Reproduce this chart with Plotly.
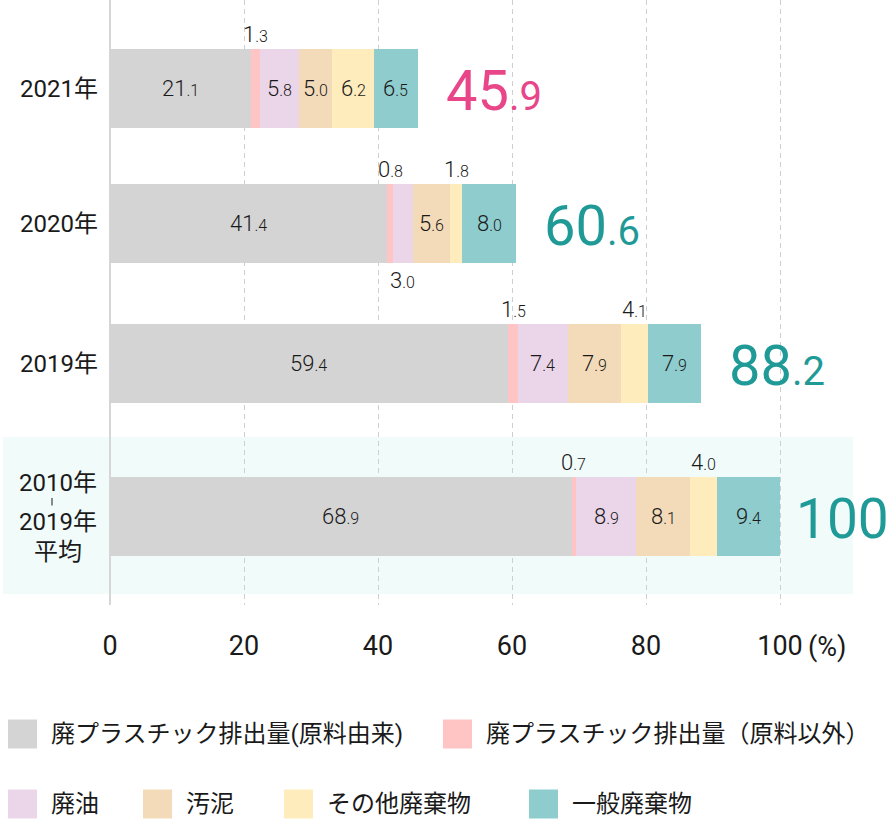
import plotly.graph_objects as go

# ---------------- data ----------------
category_lines = [["2021年"], ["2020年"], ["2019年"], ["2010年", "2019年", "平均"]]
series_names = [
    "廃プラスチック排出量(原料由来)",
    "廃プラスチック排出量（原料以外）",
    "廃油",
    "汚泥",
    "その他廃棄物",
    "一般廃棄物",
]
plastic_origin = [21.1, 41.4, 59.4, 68.9]
plastic_other = [1.3, 0.8, 1.5, 0.7]
waste_oil = [5.8, 3.0, 7.4, 8.9]
sludge = [5.0, 5.6, 7.9, 8.1]
other_waste = [6.2, 1.8, 4.1, 4.0]
general_waste = [6.5, 8.0, 7.9, 9.4]
totals = [45.9, 60.6, 88.2, 100]
x_ticks = [0, 20, 40, 60, 80, 100]

# ---------------- style / layout ----------------
series_values = [plastic_origin, plastic_other, waste_oil, sludge, other_waste, general_waste]
colors = ["#d4d4d4", "#ffc5c5", "#ebd6e9", "#f3dbb9", "#feecbd", "#8ecccd"]
row_pos = [88.5, 223.5, 363.5, 516.5]   # vertical layout of the rows (y axis units)
bar_w = 79
FONT = "Roboto, 'Noto Sans CJK JP', sans-serif"
TXT = "#1a1a1a"
PINK = "#e94589"
TEAL = "#1f9a97"

W_PX, H_PX = 892, 822
L, R, T, B = 110, 0, 0, 217
PW, PH = W_PX - L - R, H_PX - T - B
PX_PER_UNIT = 6.7


def px_x(px):
    return (px - L) / PW


def px_y(py):
    return 1 - (py - T) / PH


def two_size(v, big, small):
    s = f"{v:g}" if v >= 100 else f"{v:.1f}"
    if "." in s:
        i, d = s.split(".")
        return f"<span style='font-size:{big}px'>{i}</span><span style='font-size:{small}px'>.{d}</span>"
    return f"<span style='font-size:{big}px'>{s}</span>"


fig = go.Figure()
for name, vals, col in zip(series_names, series_values, colors):
    fig.add_trace(go.Bar(
        orientation="h", y=row_pos, x=vals, name=name, width=bar_w,
        marker=dict(color=col, line=dict(width=0)), showlegend=False,
        hoverinfo="x+name",
    ))

annotations = []
shapes = []

# highlight band behind the average row
shapes.append(dict(type="rect", xref="paper", yref="y", layer="below",
                   x0=px_x(3), x1=px_x(853), y0=row_pos[3] - 79.5, y1=row_pos[3] + 77.5,
                   fillcolor="#f1fbfa", line=dict(width=0)))

SEG_FONT = dict(family=FONT, size=21, color=TXT, weight=300)

# segment labels
for r in range(len(row_pos)):
    cum = 0.0
    prev_out = None
    for s, vals in enumerate(series_values):
        v = vals[r]
        mid = cum + v / 2
        cum += v
        text = two_size(v, 22, 16)
        if v >= 4.5:
            annotations.append(dict(x=mid, y=row_pos[r], xref="x", yref="y", text=text,
                                    xanchor="center", yanchor="middle",
                                    showarrow=False, font=SEG_FONT))
        else:
            below = prev_out is not None and s - prev_out == 1
            prev_out = s
            if below:
                annotations.append(dict(x=mid, y=row_pos[r] + bar_w / 2, xref="x", yref="y",
                                        xanchor="center", yanchor="top", yshift=-3, text=text,
                                        showarrow=False, font=SEG_FONT))
            else:
                annotations.append(dict(x=mid, y=row_pos[r] - bar_w / 2, xref="x", yref="y",
                                        xanchor="center", yanchor="bottom", yshift=0, text=text,
                                        showarrow=False, font=SEG_FONT))

# totals
for r, tot in enumerate(totals):
    annotations.append(dict(x=tot, y=row_pos[r], xref="x", yref="y", xanchor="left",
                            yanchor="middle",
                            xshift=26 if tot < 100 else 14, yshift=-2,
                            text=two_size(tot, 56 if tot < 100 else 55, 40), showarrow=False,
                            font=dict(family=FONT, size=40, color=PINK if r == 0 else TEAL)))

# category labels
for r, lines in enumerate(category_lines):
    if len(lines) == 1:
        annotations.append(dict(x=px_x(59), y=row_pos[r], xref="paper", yref="y",
                                xanchor="center", yanchor="middle",
                                text=lines[0], showarrow=False,
                                font=dict(family=FONT, size=24, color=TXT)))
    else:
        offs = [-33.5, 5.5, 35.5]
        for ln, off in zip(lines, offs):
            annotations.append(dict(x=px_x(58), y=row_pos[r] + off, xref="paper", yref="y",
                                    xanchor="center", yanchor="middle",
                                    text=ln, showarrow=False,
                                    font=dict(family=FONT, size=24, color=TXT)))
        shapes.append(dict(type="line", xref="paper", yref="y",
                           x0=px_x(52), x1=px_x(52), y0=row_pos[r] - 18.5, y1=row_pos[r] - 11,
                           line=dict(color=TXT, width=1)))

# "(%)" unit after the last tick
annotations.append(dict(x=x_ticks[-1], y=px_y(647), xref="x", yref="paper", xanchor="left",
                        yanchor="middle", xshift=26, text="(%)", showarrow=False,
                        font=dict(family=FONT, size=27, color=TXT)))

# manual legend (large square keys)
legend_pos = [(8, 734), (443, 734), (8, 804), (143, 804), (284, 804), (529, 804)]
for (lx, ly), name, col in zip(legend_pos, series_names, colors):
    shapes.append(dict(type="rect", xref="paper", yref="paper",
                       x0=px_x(lx), x1=px_x(lx + 29), y0=px_y(ly - 14.5), y1=px_y(ly + 14.5),
                       fillcolor=col, line=dict(width=0)))
    annotations.append(dict(x=px_x(lx + 41), y=px_y(ly), xref="paper", yref="paper",
                            xanchor="left", yanchor="middle", text=name, showarrow=False,
                            font=dict(family=FONT, size=24, color=TXT)))

fig.update_layout(
    width=W_PX, height=H_PX,
    margin=dict(l=L, r=R, t=T, b=B, pad=0),
    paper_bgcolor="white", plot_bgcolor="rgba(0,0,0,0)",
    barmode="stack", bargap=0,
    font=dict(family=FONT, color=TXT),
    xaxis=dict(range=[0, PW / PX_PER_UNIT], tickvals=x_ticks,
               ticktext=[str(t) for t in x_ticks],
               showgrid=True, gridcolor="#cfcfcf", griddash="5px,4px", gridwidth=1,
               zeroline=True, zerolinecolor="#d6d6d6", zerolinewidth=1.5,
               showline=False, ticks="", ticklabelstandoff=22,
               tickfont=dict(family=FONT, size=27, color=TXT), fixedrange=True),
    yaxis=dict(range=[PH, 0], showticklabels=False, showgrid=False, zeroline=False,
               showline=False, fixedrange=True),
    annotations=annotations,
    shapes=shapes,
    showlegend=False,
)

fig.write_html("out.html")
